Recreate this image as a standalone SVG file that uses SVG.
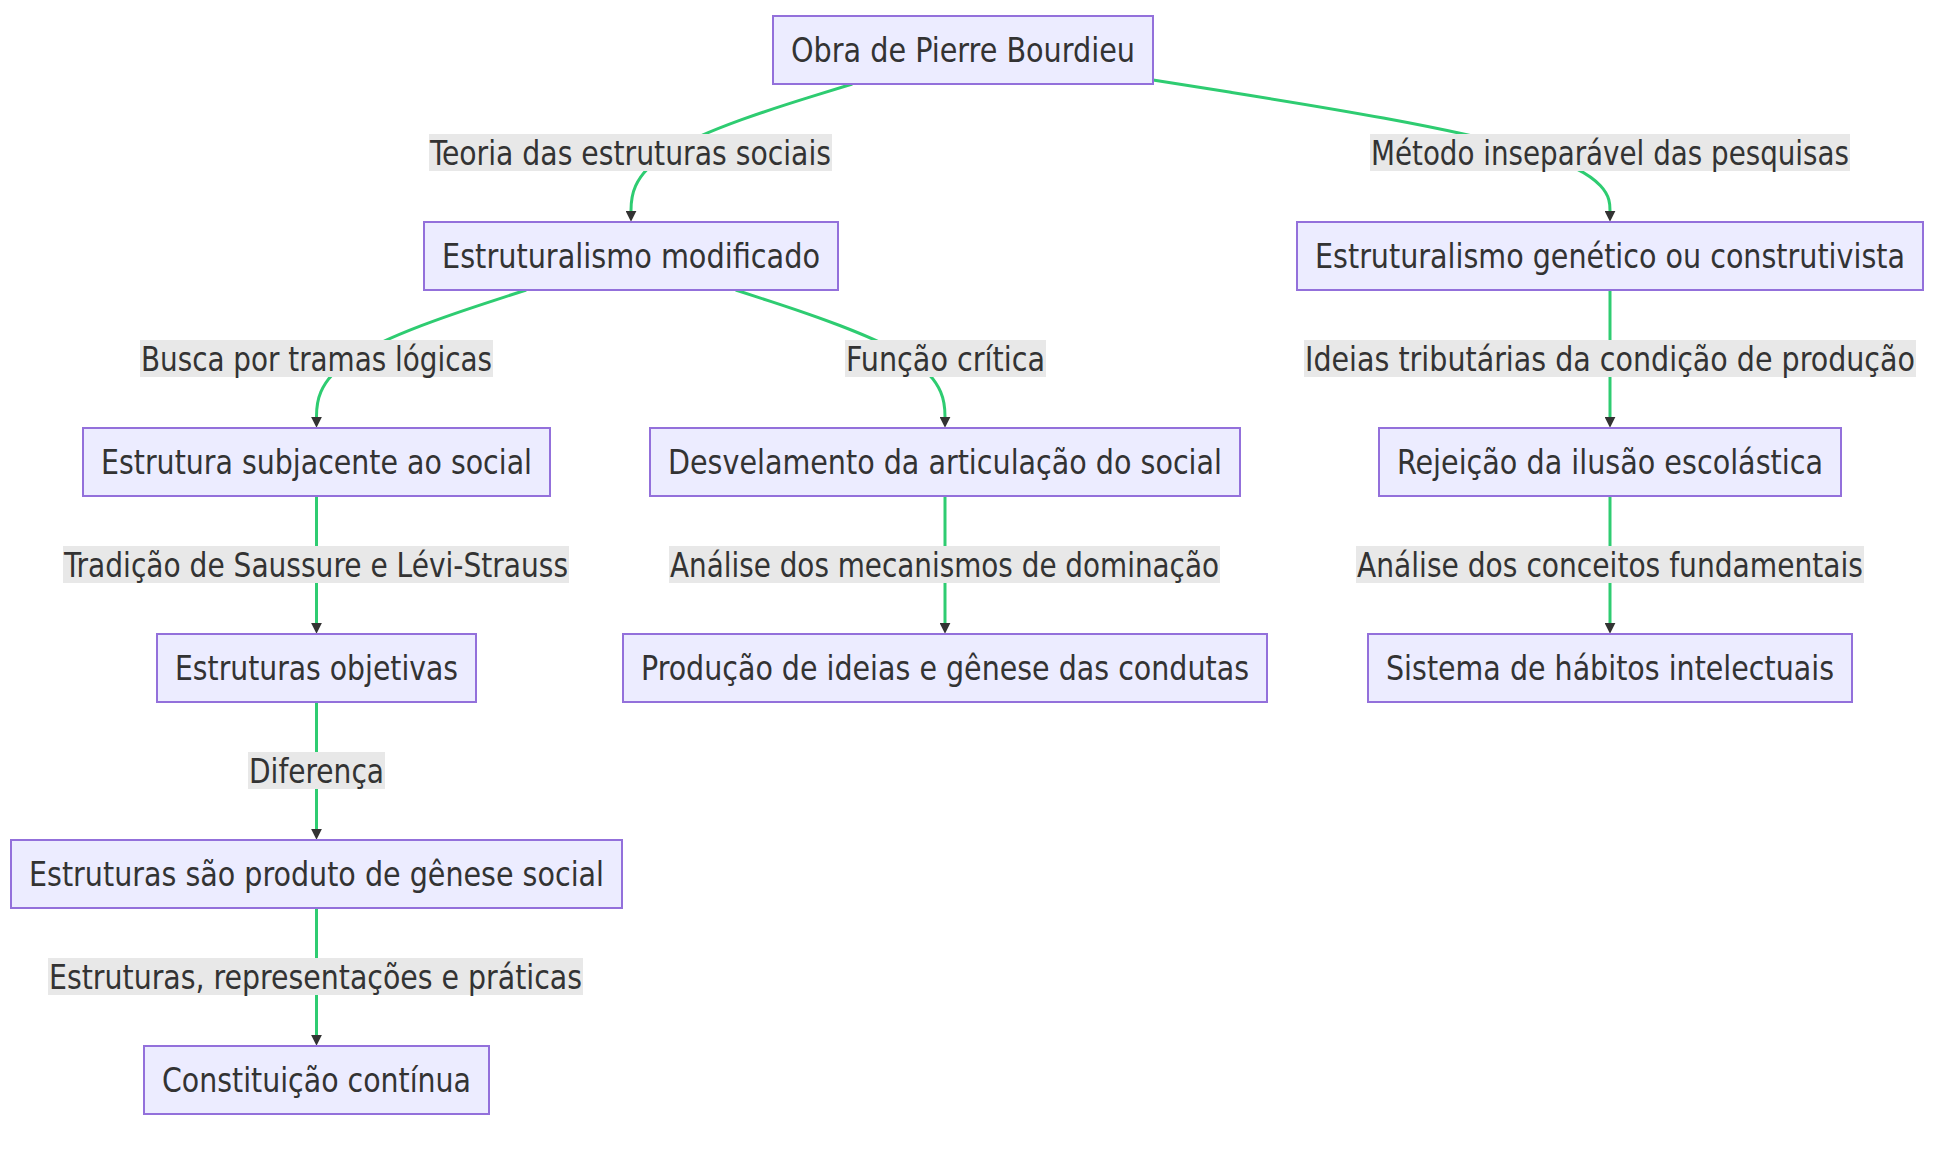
<svg xmlns="http://www.w3.org/2000/svg" width="1942" height="1162" viewBox="0 0 1942 1162">
<style>
.node rect{fill:#ECECFF;stroke:#9370DB;stroke-width:2;}
.node text,.label text{font-family:"DejaVu Sans Condensed","DejaVu Sans",sans-serif;font-size:34px;fill:#333333;text-anchor:middle;}
.edge{fill:none;stroke:#2ECC71;stroke-width:3;}
.label rect{fill:#E8E8E8;}
</style>
<defs>
<marker id="arr" viewBox="0 0 10 10" refX="2" refY="5" markerWidth="11" markerHeight="11" markerUnits="userSpaceOnUse" orient="auto">
<path d="M0,0 L10,5 L0,10 z" fill="#333333"/>
</marker>
</defs>
<rect x="0" y="0" width="1942" height="1162" fill="#ffffff"/>
<g id="connectors">
<path class="edge" marker-end="url(#arr)" d="M852.3,84 L815.4,95.4 C778.5,106.8 704.8,129.7 667.9,152.7 C631,175.7 631,198.8 631,210.4 L631,213"/>
<path class="edge" marker-end="url(#arr)" d="M1153,80 L1229.2,92.1 C1305.3,104.2 1457.7,128.3 1533.8,152 C1610,175.7 1610,198.8 1610,210.4 L1610,213"/>
<path class="edge" marker-end="url(#arr)" d="M526.2,290 L491.3,301.4 C456.3,312.8 386.4,335.7 351.5,358.7 C316.5,381.7 316.5,404.8 316.5,416.4 L316.5,419"/>
<path class="edge" marker-end="url(#arr)" d="M735.7,290 L770.6,301.4 C805.5,312.8 875.2,335.7 910.1,358.7 C945,381.7 945,404.8 945,416.4 L945,419"/>
<path class="edge" marker-end="url(#arr)" d="M1610,290 L1610,419"/>
<path class="edge" marker-end="url(#arr)" d="M316.5,496 L316.5,625"/>
<path class="edge" marker-end="url(#arr)" d="M945,496 L945,625"/>
<path class="edge" marker-end="url(#arr)" d="M1610,496 L1610,625"/>
<path class="edge" marker-end="url(#arr)" d="M316.5,702 L316.5,831"/>
<path class="edge" marker-end="url(#arr)" d="M316.5,908 L316.5,1037"/>
</g>
<g id="edge-labels">
<g class="label"><rect x="429" y="134" width="403" height="37"/><text x="630.5" y="165" textLength="401" lengthAdjust="spacingAndGlyphs">Teoria das estruturas sociais</text></g>
<g class="label"><rect x="1370" y="134" width="480" height="37"/><text x="1610" y="165" textLength="478" lengthAdjust="spacingAndGlyphs">Método inseparável das pesquisas</text></g>
<g class="label"><rect x="140" y="340" width="353" height="37"/><text x="316.5" y="371" textLength="351" lengthAdjust="spacingAndGlyphs">Busca por tramas lógicas</text></g>
<g class="label"><rect x="845" y="340" width="201" height="37"/><text x="945.5" y="371" textLength="199" lengthAdjust="spacingAndGlyphs">Função crítica</text></g>
<g class="label"><rect x="1304" y="340" width="612" height="37"/><text x="1610" y="371" textLength="610" lengthAdjust="spacingAndGlyphs">Ideias tributárias da condição de produção</text></g>
<g class="label"><rect x="63" y="546" width="506" height="37"/><text x="316" y="577" textLength="504" lengthAdjust="spacingAndGlyphs">Tradição de Saussure e Lévi-Strauss</text></g>
<g class="label"><rect x="669" y="546" width="551" height="37"/><text x="944.5" y="577" textLength="549" lengthAdjust="spacingAndGlyphs">Análise dos mecanismos de dominação</text></g>
<g class="label"><rect x="1356" y="546" width="508" height="37"/><text x="1610" y="577" textLength="506" lengthAdjust="spacingAndGlyphs">Análise dos conceitos fundamentais</text></g>
<g class="label"><rect x="248" y="752" width="137" height="37"/><text x="316.5" y="783" textLength="135" lengthAdjust="spacingAndGlyphs">Diferença</text></g>
<g class="label"><rect x="48" y="958" width="535" height="37"/><text x="315.5" y="989" textLength="533" lengthAdjust="spacingAndGlyphs">Estruturas, representações e práticas</text></g>
</g>
<g id="n1" class="node"><rect x="773" y="16" width="380" height="68"/><text x="963" y="62" textLength="344" lengthAdjust="spacingAndGlyphs">Obra de Pierre Bourdieu</text></g>
<g id="n2" class="node"><rect x="424" y="222" width="414" height="68"/><text x="631" y="268" textLength="378" lengthAdjust="spacingAndGlyphs">Estruturalismo modificado</text></g>
<g id="n3" class="node"><rect x="1297" y="222" width="626" height="68"/><text x="1610" y="268" textLength="590" lengthAdjust="spacingAndGlyphs">Estruturalismo genético ou construtivista</text></g>
<g id="n4" class="node"><rect x="83" y="428" width="467" height="68"/><text x="316.5" y="474" textLength="431" lengthAdjust="spacingAndGlyphs">Estrutura subjacente ao social</text></g>
<g id="n5" class="node"><rect x="650" y="428" width="590" height="68"/><text x="945" y="474" textLength="554" lengthAdjust="spacingAndGlyphs">Desvelamento da articulação do social</text></g>
<g id="n6" class="node"><rect x="1379" y="428" width="462" height="68"/><text x="1610" y="474" textLength="426" lengthAdjust="spacingAndGlyphs">Rejeição da ilusão escolástica</text></g>
<g id="n7" class="node"><rect x="157" y="634" width="319" height="68"/><text x="316.5" y="680" textLength="283" lengthAdjust="spacingAndGlyphs">Estruturas objetivas</text></g>
<g id="n8" class="node"><rect x="623" y="634" width="644" height="68"/><text x="945" y="680" textLength="608" lengthAdjust="spacingAndGlyphs">Produção de ideias e gênese das condutas</text></g>
<g id="n9" class="node"><rect x="1368" y="634" width="484" height="68"/><text x="1610" y="680" textLength="448" lengthAdjust="spacingAndGlyphs">Sistema de hábitos intelectuais</text></g>
<g id="n10" class="node"><rect x="11" y="840" width="611" height="68"/><text x="316.5" y="886" textLength="575" lengthAdjust="spacingAndGlyphs">Estruturas são produto de gênese social</text></g>
<g id="n11" class="node"><rect x="144" y="1046" width="345" height="68"/><text x="316.5" y="1092" textLength="309" lengthAdjust="spacingAndGlyphs">Constituição contínua</text></g>
</svg>
